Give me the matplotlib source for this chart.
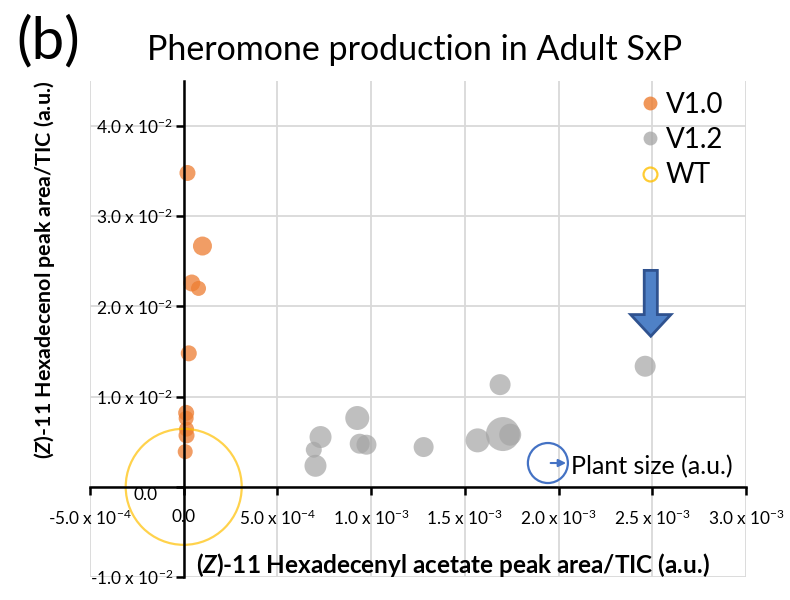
import matplotlib
matplotlib.use("Agg")
import matplotlib.pyplot as plt
from matplotlib.lines import Line2D
from matplotlib.patches import FancyArrow
from matplotlib.transforms import ScaledTranslation

plt.rcParams['font.family'] = ['Lato', 'DejaVu Sans']
plt.rcParams['mathtext.fontset'] = 'custom'
plt.rcParams['mathtext.rm'] = 'Lato'
plt.rcParams['mathtext.it'] = 'Lato:italic'
plt.rcParams['mathtext.bf'] = 'Lato:bold'
plt.rcParams['mathtext.bfit'] = 'Lato:italic:bold'

# ---- data ----
v10_x = [0.00002, 0.00010, 0.000043, 0.000079, 0.000027, 0.000013, 0.000013, 0.000015, 0.000015, 0.000008]
v10_y = [0.0348, 0.0267, 0.0226, 0.0220, 0.0148, 0.0082, 0.0076, 0.0064, 0.0057, 0.0039]
v10_size = [16, 19, 17, 15, 16, 16, 15, 15, 16, 15]

v12_x = [0.002462, 0.001688, 0.000926, 0.000730, 0.000694, 0.000703, 0.000939, 0.000975, 0.00128, 0.001568, 0.001703, 0.001742]
v12_y = [0.01337, 0.01133, 0.00763, 0.00552, 0.00411, 0.00233, 0.00478, 0.00467, 0.00441, 0.00515, 0.00585, 0.00578]
v12_size = [21, 21, 24, 22, 16, 22, 20, 20, 20, 24, 34, 22]

wt_x = [0.0]
wt_y = [0.0]
wt_size = [116]

x_ticks = [-0.0005, 0.0, 0.0005, 0.0010, 0.0015, 0.0020, 0.0025, 0.0030]
x_ticklabels = [r"-5.0 x 10$^{-4}$", "0.0", r"5.0 x 10$^{-4}$", r"1.0 x 10$^{-3}$",
                r"1.5 x 10$^{-3}$", r"2.0 x 10$^{-3}$", r"2.5 x 10$^{-3}$", r"3.0 x 10$^{-3}$"]
y_ticks = [-0.01, 0.0, 0.01, 0.02, 0.03, 0.04]
y_ticklabels = [r"-1.0 x 10$^{-2}$", "0.0", r"1.0 x 10$^{-2}$", r"2.0 x 10$^{-2}$",
                r"3.0 x 10$^{-2}$", r"4.0 x 10$^{-2}$"]

title = "Pheromone production in Adult SxP"
xlabel = r"($\mathbfit{Z}$)-11 Hexadecenyl acetate peak area/TIC (a.u.)"
ylabel = r"($\mathbfit{Z}$)-11 Hexadecenol peak area/TIC (a.u.)"

ORANGE = '#ED7D31'
GREY = '#A5A5A5'
YELLOW = '#FFC000'
BLUE = '#4472C4'

def area(d):
    return [(v * 0.72) ** 2 for v in d]

fig = plt.figure(figsize=(7.9, 6.0), dpi=100)
ax = fig.add_axes([90/790, 1-577/600, 656/790, 496/600])
ax.set_xlim(-0.0005, 0.0030)
ax.set_ylim(-0.01, 0.045)

ax.set_axisbelow(True)
ax.grid(True, color='#D9D9D9', lw=1.3)

ax.scatter(v10_x, v10_y, s=area(v10_size), color=ORANGE, alpha=0.75, lw=0, zorder=3)
ax.scatter(v12_x, v12_y, s=area(v12_size), color=GREY, alpha=0.7, lw=0, zorder=3)
ax.scatter(wt_x, wt_y, s=area(wt_size), facecolor='none', edgecolor=YELLOW, alpha=0.7, lw=1.6, zorder=4)

for side in ['top', 'right']:
    ax.spines[side].set_visible(False)
ax.spines['left'].set_position(('data', 0))
ax.spines['bottom'].set_position(('data', 0))
ax.spines['left'].set_linewidth(1.8)
ax.spines['bottom'].set_linewidth(1.8)
ax.spines['left'].set_zorder(5)
ax.spines['bottom'].set_zorder(5)

ax.set_xticks(x_ticks)
ax.set_xticklabels(x_ticklabels)
ax.set_yticks(y_ticks)
ax.set_yticklabels(y_ticklabels)
ax.tick_params(axis='x', direction='out', length=6, width=1.8, pad=10, labelsize=12.4)
ax.tick_params(axis='y', direction='out', length=6, width=1.8, pad=1.5, labelsize=12.4)
# the y "0.0" label sits a little lower/left in the original
lab0 = ax.get_yticklabels()[1]
lab0.set_transform(lab0.get_transform() + ScaledTranslation(-0.16, -0.07, fig.dpi_scale_trans))

# highlight arrow above the largest-y V1.2 point
i = v12_y.index(max(v12_y))
ax.add_patch(FancyArrow(v12_x[i] + 0.00003, 0.0240, 0, -0.0073, width=0.00007, head_width=0.000215,
                        head_length=0.0024, length_includes_head=True,
                        facecolor='#4F81C7', edgecolor='#2F528F', lw=2, zorder=6))

# plant size key
ax.scatter([0.698], [0.2298], s=(40*0.72)**2, facecolor='none', edgecolor=BLUE, lw=1.6,
           transform=ax.transAxes, zorder=6, clip_on=False)
ax.annotate('', xy=(0.730, 0.2298), xytext=(0.698, 0.2298), xycoords='axes fraction',
            arrowprops=dict(arrowstyle='-|>', color=BLUE, lw=1.5, mutation_scale=11))
ax.text(0.733, 0.222, 'Plant size (a.u.)', transform=ax.transAxes, fontsize=18,
        ha='left', va='center')

# legend
handles = [Line2D([], [], ls='', marker='o', markersize=10, markerfacecolor=ORANGE, markeredgecolor='none', alpha=0.8),
           Line2D([], [], ls='', marker='o', markersize=10, markerfacecolor=GREY, markeredgecolor='none', alpha=0.75),
           Line2D([], [], ls='', marker='o', markersize=10, markerfacecolor='none', markeredgecolor=YELLOW, markeredgewidth=1.6, alpha=0.8)]
fig.legend(handles, ['V1.0', 'V1.2', 'WT'], loc='upper left', bbox_to_anchor=(0.795, 0.870),
           frameon=False, fontsize=20, handlelength=0.6, handletextpad=0.25, labelspacing=0.33,
           borderpad=0)

fig.text(415/790, 1-50/600, title, fontsize=24.5, ha='center', va='center')
fig.text(48/790, 1-42/600, '(b)', fontsize=42, ha='center', va='center')
fig.text(196/790, 1-565/600, xlabel, fontsize=17.5, fontweight='bold', ha='left', va='center')
fig.text(45/790, 1-270/600, ylabel, fontsize=15.4, fontweight='bold', ha='center', va='center', rotation=90)

fig.savefig('out.png', dpi=100)
